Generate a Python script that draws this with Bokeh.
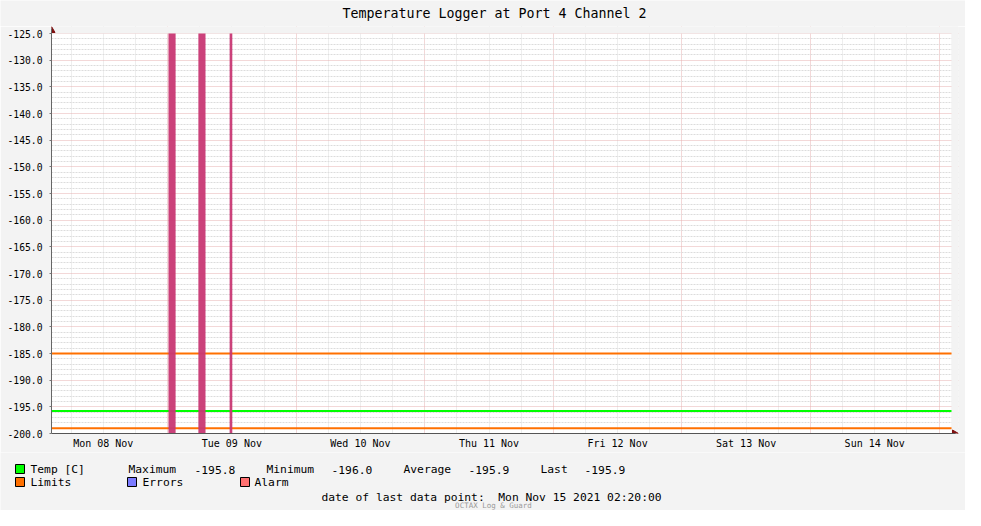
from datetime import datetime, timedelta
from bokeh.plotting import figure
from bokeh.layouts import column
from bokeh.models import (FixedTicker, PrintfTickFormatter, DatetimeTickFormatter, Range1d)
from bokeh.core.properties import value
from bokeh.embed import file_html
from bokeh.resources import INLINE

# ---------------- data ----------------
title_text = "Temperature Logger at Port 4 Channel 2"
start = datetime(2021, 11, 8, 2, 20)
end = datetime(2021, 11, 15, 2, 20)

temp_times = [datetime(2021, 11, 8, 2, 20), datetime(2021, 11, 9, 2, 20),
              datetime(2021, 11, 10, 2, 20), datetime(2021, 11, 11, 2, 20),
              datetime(2021, 11, 12, 2, 20), datetime(2021, 11, 13, 2, 20),
              datetime(2021, 11, 14, 2, 20), datetime(2021, 11, 15, 2, 20)]
temp_values = [-195.8, -195.8, -195.8, -195.8, -195.8, -195.8, -195.8, -195.8]

limit_high = -185.0
limit_low = -199.0

alarm_start = [datetime(2021, 11, 9, 0, 10), datetime(2021, 11, 9, 5, 45),
               datetime(2021, 11, 9, 11, 35)]
alarm_end = [datetime(2021, 11, 9, 1, 30), datetime(2021, 11, 9, 7, 5),
             datetime(2021, 11, 9, 12, 5)]

y_major = list(range(-200, -124, 5))
y_minor = [v for v in range(-200, -124) if v % 5 != 0]
day_label_ticks = [datetime(2021, 11, d, 12) for d in range(8, 15)]
midnights = [datetime(2021, 11, d) for d in range(9, 16)]
six_hours = [datetime(2021, 11, 8, 6) + timedelta(hours=6 * i) for i in range(28)]
six_hours = [t for t in six_hours if t.hour != 0]

legend_row1 = ["Temp [C]", "Maximum", "-195.8", "Minimum", "-196.0",
               "Average", "-195.9", "Last", "-195.9"]
legend_row2 = ["Limits", "Errors", "Alarm"]
legend_colors = ["#00ff00", "#ff7000", "#7b7bff", "#ff7070"]
footer_text = "date of last data point:\u00a0 Mon Nov 15 2021 02:20:00"
brand_text = "OCTAX Log & Guard"

# ---------------- helpers ----------------
EPOCH = datetime(1970, 1, 1)
def ms(t):
    return (t - EPOCH).total_seconds() * 1000.0

FONT = "DejaVu Sans Mono"
BG = "#f3f3f3"
W = 965
FL, FR, FT, FB = 51, 951, 33, 433      # plot area in page pixels
EXT = 7                                  # room for the axis arrows
x0, x1 = ms(start), ms(end)
xpp = (x1 - x0) / (FR - FL)
ypp = 75.0 / (FB - FT)
def X(px):
    return x0 + (px - FL) * xpp
def Y(py):
    return -125 - (py - FT) * ypp

HEAD_H = FT - EXT                        # 26
MAIN_BOTTOM = 452
MAIN_H = MAIN_BOTTOM - HEAD_H
LEG_H = 510 - MAIN_BOTTOM

def blank(height, y0, y1):
    f = figure(width=W, height=height, x_range=Range1d(0, W), y_range=Range1d(y1, y0),
               output_backend="svg", toolbar_location=None,
               x_axis_location=None, y_axis_location=None, frame_align=False,
               min_border=0, min_border_left=0, min_border_right=0,
               min_border_top=0, min_border_bottom=0)
    f.title.visible = False
    f.grid.visible = False
    f.outline_line_color = None
    f.background_fill_color = BG
    f.border_fill_color = BG
    return f

# ---------------- header (title) ----------------
head = blank(HEAD_H, 0, HEAD_H)
head.text(x=[494], y=[13], text=[title_text], text_font=value(FONT),
          text_font_size=value("13.3px"), text_align="center",
          text_baseline="middle", text_color="#000000")

# ---------------- main plot ----------------
p = figure(width=W, height=MAIN_H, x_axis_type="datetime",
           x_range=Range1d(x0, X(FR + EXT)), y_range=Range1d(-200, Y(FT - EXT)),
           output_backend="svg", toolbar_location=None, frame_align=False,
           min_border_left=FL, min_border_right=W - (FR + EXT),
           min_border_top=0, min_border_bottom=MAIN_H - (FB - HEAD_H))
p.title.visible = False
p.border_fill_color = BG
p.background_fill_color = BG
p.outline_line_color = None

# white plotting canvas under the grid
p.quad(left=[x0], right=[x1], bottom=[-200], top=[-125],
       fill_color="#ffffff", line_color=None, level="image")

# axes
p.yaxis.ticker = FixedTicker(ticks=y_major, minor_ticks=y_minor)
p.yaxis.formatter = PrintfTickFormatter(format="%.1f")
p.yaxis.bounds = (-200, Y(FT - 5))
p.yaxis.major_label_text_font = FONT
p.yaxis.major_label_text_font_size = "9.7px"
p.yaxis.major_label_text_color = "#000000"
p.yaxis.major_tick_out = 2
p.yaxis.major_tick_in = 0
p.yaxis.major_tick_line_color = "#777777"
p.yaxis.minor_tick_line_color = None
p.yaxis.major_label_standoff = 5
p.yaxis.axis_line_color = "#666666"

p.xaxis.ticker = FixedTicker(ticks=[ms(t) for t in day_label_ticks])
fmt = "%a %d %b"
p.xaxis.formatter = DatetimeTickFormatter(
    microseconds=fmt, milliseconds=fmt, seconds=fmt, minsec=fmt, minutes=fmt,
    hourmin=fmt, hours=fmt, days=fmt, months=fmt, years=fmt)
p.xaxis.bounds = (x0, X(FR + 4))
p.xaxis.major_label_text_font = FONT
p.xaxis.major_label_text_font_size = "10px"
p.xaxis.major_label_text_color = "#000000"
p.xaxis.major_tick_line_color = None
p.xaxis.minor_tick_line_color = None
p.xaxis.major_tick_out = 0
p.xaxis.major_tick_in = 0
p.xaxis.major_label_standoff = 4
p.xaxis.axis_line_color = "#555555"

# grids
p.ygrid.ticker = FixedTicker(ticks=y_major, minor_ticks=y_minor)
p.ygrid.grid_line_color = "#e6b0b0"
p.ygrid.grid_line_dash = "1 1"
p.ygrid.minor_grid_line_color = "#dcdcdc"
p.ygrid.minor_grid_line_dash = "2 1"
p.xgrid.ticker = FixedTicker(ticks=[ms(t) for t in midnights],
                             minor_ticks=[ms(t) for t in six_hours])
p.xgrid.grid_line_color = "#e6b0b0"
p.xgrid.grid_line_dash = "1 1"
p.xgrid.minor_grid_line_color = "#dcdcdc"
p.xgrid.minor_grid_line_dash = "1 1"

# cover the grid in the arrow margins
p.quad(left=[x0, x1], right=[X(FR + EXT), X(FR + EXT)],
       bottom=[-125, -200], top=[Y(FT - EXT), Y(FT - EXT)],
       fill_color=BG, line_color=None)

# series
p.line([ms(t) for t in temp_times], temp_values, line_color="#00ff00", line_width=2)
p.line([x0, x1], [limit_high, limit_high], line_color="#ff7000", line_width=2)
p.line([x0, x1], [limit_low, limit_low], line_color="#ff7000", line_width=2)
p.quad(left=[ms(t) for t in alarm_start], right=[ms(t) for t in alarm_end],
       bottom=-200, top=-125, fill_color="#c83773", line_color=None, fill_alpha=0.95)

# axis arrow heads
ac = "#7f1010"
p.patch([X(FL - 3.5), X(FL), X(FL + 3.5)], [Y(FT - 1), Y(FT - 7), Y(FT - 1)],
        fill_color=ac, line_color=ac)
p.patch([X(FR + 1), X(FR + 7), X(FR + 1)], [Y(FB - 3.5), Y(FB), Y(FB + 3.5)],
        fill_color=ac, line_color=ac)

# ---------------- legend + footer ----------------
leg = blank(LEG_H, MAIN_BOTTOM, 510)

sq_x = [15, 15, 127, 240]
sq_y = [464, 477, 477, 477]
leg.quad(left=sq_x, right=[x + 9 for x in sq_x], top=sq_y, bottom=[y + 9 for y in sq_y],
         fill_color=legend_colors, line_color="#000000", line_width=1)

row1_x = [30, 128, 194, 266, 331, 403, 468, 540, 584]
row2_x = [30, 142, 254]
leg.text(x=row1_x, y=[469] * len(row1_x), text=legend_row1, text_font=value(FONT),
         text_font_size=value("11.3px"), text_baseline="middle", text_align="left",
         text_color="#000000")
leg.text(x=row2_x, y=[482] * len(row2_x), text=legend_row2, text_font=value(FONT),
         text_font_size=value("11.3px"), text_baseline="middle", text_align="left",
         text_color="#000000")
leg.text(x=[491], y=[497], text=[footer_text], text_font=value(FONT),
         text_font_size=value("11.3px"), text_baseline="middle", text_align="center",
         text_color="#000000")
leg.text(x=[493], y=[504.5], text=[brand_text], text_font=value(FONT),
         text_font_size=value("7.5px"), text_baseline="middle", text_align="center",
         text_color="#9a9a9a")

layout = column(head, p, leg, spacing=0)
open("out.html", "w").write(file_html(layout, INLINE))
